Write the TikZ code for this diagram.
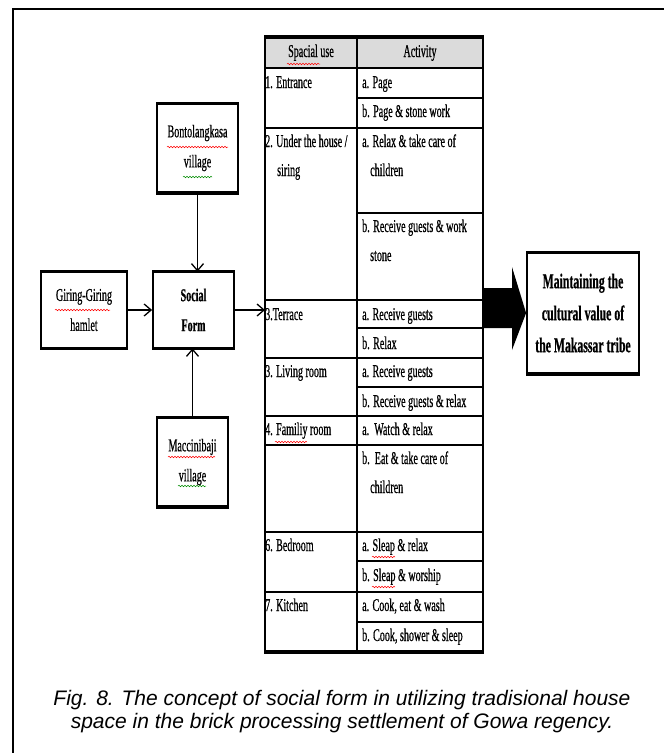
\documentclass[tikz,border=0pt]{standalone}
\usepackage{fontspec}
\setmainfont{Liberation Serif}
\newfontfamily\tf[FakeStretch=0.56,FakeBold=0.6]{Liberation Serif}
\newfontfamily\capfont{Liberation Sans}
\usetikzlibrary{arrows.meta,decorations.pathmorphing}
\begin{document}
\begin{tikzpicture}[x=1pt,y=-1pt,
  lbl/.style={anchor=west,inner sep=0pt,text height=12pt,text depth=4pt,font=\tf\fontsize{18}{20}\selectfont},
  hdr/.style={lbl,anchor=center},
  box/.style={draw,line width=1.8pt,fill=white,inner sep=0pt,align=center,font=\tf\fontsize{18}{30}\selectfont},
  conn/.style={line width=1.3pt,-{Straight Barb[length=7pt,width=12pt,line width=1.3pt]}},
  gridline/.style={line width=1.2pt},
  wavyred/.style={draw=red,line width=0.5pt,decorate,decoration={snake,amplitude=0.8pt,segment length=3pt}},
  wavygreen/.style={wavyred,draw=green!55!black}]
\useasboundingbox (0,0) rectangle (664,753);
\fill[white] (0,0) rectangle (664,753);
% frame
\draw[line width=1.6pt] (13,753) -- (13,9) -- (664,9);

% boxes
\node[box,minimum width=81pt,minimum height=88pt] (bont) at (197.5,148) {Bontolangkasa\\village};
\node[box,minimum width=86pt,minimum height=75pt] (giring) at (84,310) {Giring-Giring\\hamlet};
\node[box,minimum width=81pt,minimum height=75pt,font=\tf\bfseries\fontsize{18}{30}\selectfont] (social) at (193.5,310) {Social\\Form};
\node[box,minimum width=71pt,minimum height=88pt] (macc) at (192.5,462) {Maccinibaji\\village};
\node[box,minimum width=112pt,minimum height=120pt,font=\tf\bfseries\fontsize{21}{32}\selectfont] (maint) at (583,313) {Maintaining the\\cultural value of\\the Makassar tribe};
\foreach \n in {bont,giring,social,macc,maint}{
  \draw[line width=3.2pt] (\n.north west) -- (\n.north east);
  \draw[line width=3.2pt] (\n.south west) -- (\n.south east);
}

% spell-check marks
\draw[wavyred] (167,147) -- (228,147);
\draw[wavygreen] (183,177) -- (212,177);
\draw[wavyred] (55,310) -- (110,310);
\draw[wavyred] (168,457) -- (215,457);
\draw[wavygreen] (178,486) -- (206,486);

% table
\def\L{265}\def\M{357}\def\R{483}
\fill[gray!28] (\L,38) rectangle (\R,68);
\foreach \y in {68,128,300,358,416,445,532,592} \draw[gridline] (\L,\y) -- (\R,\y);
\foreach \y in {98,213,328,387,561,622} \draw[gridline] (\M,\y) -- (\R,\y);
\draw[gridline] (\M,38) -- (\M,652);
\draw[line width=1.8pt] (\L,38) rectangle (\R,652);
\draw[line width=4pt] (\L-1,37) -- (\R+1,37);
\draw[line width=4pt] (\L-1,652) -- (\R+1,652);
\coordinate (tabin) at (\L,310);

\node[hdr] (h1) at (311,53) {Spacial use};
\node[hdr] (h2) at (420,53) {Activity};
\draw[wavyred] (287,64) -- (320,64);

\node[lbl] (s1) at (265,84) {1. Entrance};
\node[lbl] (s2) at (265,143) {2. Under the house /};
\node[lbl] (s2b) at (277,172) {siring};
\node[lbl] (s3) at (265,316) {3.Terrace};
\node[lbl] (s4) at (265,373) {3. Living room};
\node[lbl] (s5) at (265,431) {4. Familiy room};
\node[lbl] (s6) at (265,547) {6. Bedroom};
\node[lbl] (s7) at (265,607) {7. Kitchen};
\draw[wavyred] (275,442) -- (307,442);

\node[lbl] (a1) at (362,84) {a. Page};
\node[lbl] (b1) at (362,113) {b. Page \& stone work};
\node[lbl] (a2) at (362,143) {a. Relax \& take care of};
\node[lbl] (a2b) at (370,172) {children};
\node[lbl] (b2) at (362,228) {b. Receive guests \& work};
\node[lbl] (b2b) at (370,257) {stone};
\node[lbl] (a3) at (362,316) {a. Receive guests};
\node[lbl] (b3) at (362,345) {b. Relax};
\node[lbl] (a4) at (362,373) {a. Receive guests};
\node[lbl] (b4) at (362,403) {b. Receive guests \& relax};
\node[lbl] (a5) at (362,431) {a.\ \ Watch \& relax};
\node[lbl] (b5) at (362,460) {b.\ \ Eat \& take care of};
\node[lbl] (b5b) at (370,489) {children};
\node[lbl] (a6) at (362,547) {a. Sleap \& relax};
\node[lbl] (b6) at (362,577) {b. Sleap \& worship};
\node[lbl] (a7) at (362,607) {a. Cook, eat \& wash};
\node[lbl] (b7) at (362,637) {b. Cook, shower \& sleep};
\draw[wavyred] (372,557) -- (395,557);
\draw[wavyred] (372,587) -- (395,587);

% connectors
\draw[conn] (bont.south) -- (bont.south |- social.north);
\draw[conn] (giring.east) -- (social.west);
\draw[conn] (macc.north) -- (macc.north |- social.south);
\draw[conn] (social.east) -- (tabin);

% big arrow
\fill[black] (\R,288) -- (512,288) -- (512,267) -- (maint.west) -- (512,350) -- (512,328) -- (\R,328) -- cycle;

% caption
\node[font=\capfont\itshape\fontsize{21}{23}\selectfont,align=center,inner sep=0pt] (cap) at (342,712) {Fig. 8. The concept of social form in utilizing tradisional house\\space in the brick processing settlement of Gowa regency.};
\end{tikzpicture}
\end{document}
